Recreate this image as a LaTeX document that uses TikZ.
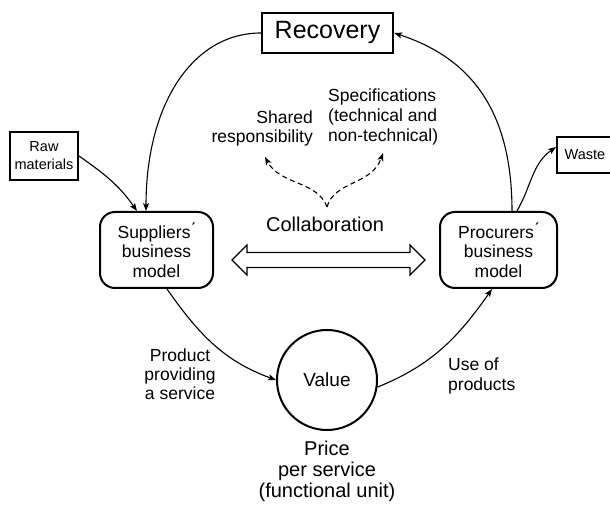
\documentclass[tikz,border=0pt]{standalone}
\usepackage{fontspec}
\setmainfont{Liberation Sans}
\usetikzlibrary{arrows.meta}
\begin{document}
\begin{tikzpicture}[x=1pt,y=1pt,
  sqbox/.style={draw, line width=2pt, inner sep=0pt, align=center},
  rbox/.style={draw, line width=2pt, rounded corners=15pt, inner sep=0pt, minimum height=76pt, align=center, font=\fontsize{17.5}{19.5}\selectfont},
  lbl/.style={inner sep=0pt, font=\fontsize{17.5}{19.5}\selectfont},
  flow/.style={line width=1.1pt, -{Stealth[length=8pt,width=6pt,inset=2pt]}},
  dashflow/.style={line width=1.1pt, dash pattern=on 5pt off 3.5pt, -{Stealth[length=8pt,width=6pt,inset=2pt]}},
]
\useasboundingbox (0,0) rectangle (610,511);

% nodes
\node[sqbox, line width=2.4pt, minimum width=131pt, minimum height=40pt, font=\fontsize{25}{27}\selectfont] (rec) at (327.5,478) {Recovery};
\node[sqbox, minimum width=68pt, minimum height=48pt, font=\fontsize{14.5}{18}\selectfont] (raw) at (44,355) {Raw\\materials};
\node[sqbox, minimum width=56pt, minimum height=36pt, font=\fontsize{14.5}{18}\selectfont] (waste) at (585,356) {Waste};
\node[rbox, minimum width=113pt] (supp) at (156.5,261) {Suppliers\'{}\\business\\model};
\node[rbox, minimum width=117pt] (proc) at (498.5,261) {Procurers\'{}\\business\\model};
\node[circle, draw, line width=2pt, minimum size=100pt, inner sep=0pt, font=\fontsize{19}{21}\selectfont] (val) at (327,131) {Value};

\node[inner sep=0pt, font=\fontsize{20}{22}\selectfont] (col) at (325,287) {Collaboration};
\node[lbl, align=right, anchor=east, font=\fontsize{17.5}{19}\selectfont] (shared) at (313,382.5) {Shared\\responsibility};
\node[lbl, align=left, anchor=west, font=\fontsize{17.5}{20}\selectfont] (spec) at (328,394) {Specifications\\(technical and\\non-technical)};
\node[lbl, align=center, font=\fontsize{17.5}{19}\selectfont] (prod) at (180,137) {Product\\providing\\a service};
\node[lbl, align=left, anchor=west, font=\fontsize{17.5}{20}\selectfont] (use) at (448,135) {Use of\\products};
\node[inner sep=0pt, align=center, font=\fontsize{20}{21}\selectfont] (price) at (327,40) {Price\\per service\\(functional unit)};

% main cycle
\draw[flow] (rec.west) .. controls +(-68,0) and +(0,107) .. ([xshift=-10.5pt]supp.north);
\draw[flow] ([xshift=13.5pt]proc.north) .. controls +(0,111) and +(67,-22) .. (rec.east);
\draw[flow] (raw.east) to[out=-35,in=125] ([xshift=-19.5pt]supp.north);
\draw[flow] ([xshift=18.5pt]proc.north) to[out=60,in=215] ([yshift=8pt]waste.west);
\draw[flow] ([xshift=10.5pt]supp.south) to[out=-55,in=160] (val.west);
\draw[flow] (val.-8) to[out=22,in=-125] ([xshift=-6.5pt]proc.south);

% collaboration double arrow
\draw[line width=1.1pt, fill=white] (232,251) -- (247,266) -- (247,258.5) -- (410,258.5) -- (410,266) -- (425,251) -- (410,236) -- (410,243.5) -- (247,243.5) -- (247,236) -- cycle;

% dashed arrows
\coordinate (fork) at (327,304);
\coordinate (shtip) at (265,354);
\coordinate (sptip) at (383,358);
\draw[dashflow] (fork) .. controls (318,330) and (280,326) .. (shtip);
\draw[dashflow] (fork) .. controls (334,330) and (372,326) .. (sptip);
\end{tikzpicture}
\end{document}
